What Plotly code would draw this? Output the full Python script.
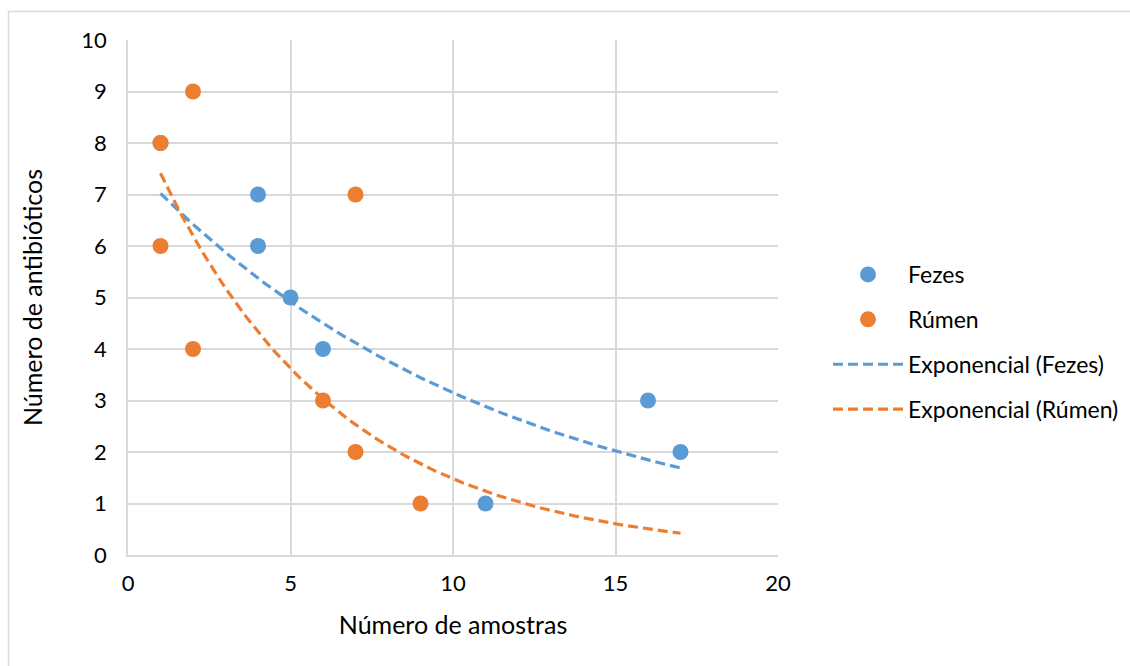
import numpy as np
import plotly.graph_objects as go

# Data
fezes_x = [1, 4, 4, 5, 6, 11, 16, 17]
fezes_y = [8, 7, 6, 5, 4, 1, 3, 2]
rumen_x = [1, 1, 2, 2, 6, 7, 7, 9]
rumen_y = [8, 6, 9, 4, 3, 7, 2, 1]
trend_range = (1, 17)

BLUE = "#5B9BD5"
ORANGE = "#ED7D31"
FONT = "Lato"


def exp_trend(xs, ys):
    b, ln_a = np.polyfit(np.array(xs, float), np.log(np.array(ys, float)), 1)
    xt = np.linspace(trend_range[0], trend_range[1], 120)
    return xt, np.exp(ln_a) * np.exp(b * xt)


fig = go.Figure()
fig.add_trace(go.Scatter(x=fezes_x, y=fezes_y, mode="markers", name="Fezes",
                         legendgroup="a",
                         marker=dict(color=BLUE, size=16)))
fig.add_trace(go.Scatter(x=rumen_x, y=rumen_y, mode="markers", name="Rúmen",
                         legendgroup="b",
                         marker=dict(color=ORANGE, size=16)))
xt, yt = exp_trend(fezes_x, fezes_y)
fig.add_trace(go.Scatter(x=xt, y=yt, mode="lines", name="Exponencial (Fezes)",
                         legendgroup="c",
                         line=dict(color=BLUE, width=3.2, dash="10px,5px")))
xt, yt = exp_trend(rumen_x, rumen_y)
fig.add_trace(go.Scatter(x=xt, y=yt, mode="lines", name="Exponencial (Rúmen)",
                         legendgroup="d",
                         line=dict(color=ORANGE, width=3.2, dash="10px,5px")))

L, R, T, B = 128, 352, 40, 111
W, H = 1130, 666
pw, ph = W - L - R, H - T - B


def px2paper_x(p):
    return (p - L) / pw


def px2paper_y(p):
    return (H - B - p) / ph


fig.update_layout(
    width=W, height=H,
    margin=dict(l=L, r=R, t=T, b=B, autoexpand=False),
    paper_bgcolor="white", plot_bgcolor="white",
    font=dict(family=FONT, size=22, color="#000000"),
    showlegend=True,
    legend=dict(x=px2paper_x(828), y=px2paper_y(253), xanchor="left", yanchor="top",
                font=dict(size=23), tracegroupgap=12, itemwidth=70,
                traceorder="grouped", bgcolor="rgba(0,0,0,0)"),
    xaxis=dict(range=[0, 20], dtick=5, tick0=0, showgrid=True, gridcolor="#d9d9d9",
               gridwidth=1.5, showline=True, linecolor="#d9d9d9", linewidth=1.5,
               zeroline=False, ticks="", ticklabelstandoff=8,
               tickfont=dict(size=22),
               title=dict(text="Número de amostras", font=dict(size=25), standoff=21)),
    yaxis=dict(range=[0, 10], dtick=1, tick0=0, showgrid=True, gridcolor="#d9d9d9",
               gridwidth=1.5, showline=True, linecolor="#d9d9d9", linewidth=1.5,
               zeroline=False, ticks="", ticklabelstandoff=15,
               tickfont=dict(size=22),
               title=dict(text="Número de antibióticos", font=dict(size=25), standoff=32)),
    shapes=[dict(type="rect", xref="paper", yref="paper",
                 x0=px2paper_x(8.5), x1=px2paper_x(1140),
                 y0=px2paper_y(680), y1=px2paper_y(11.5),
                 line=dict(color="#d9d9d9", width=1.5), layer="below")],
)

fig.write_html("out.html")
